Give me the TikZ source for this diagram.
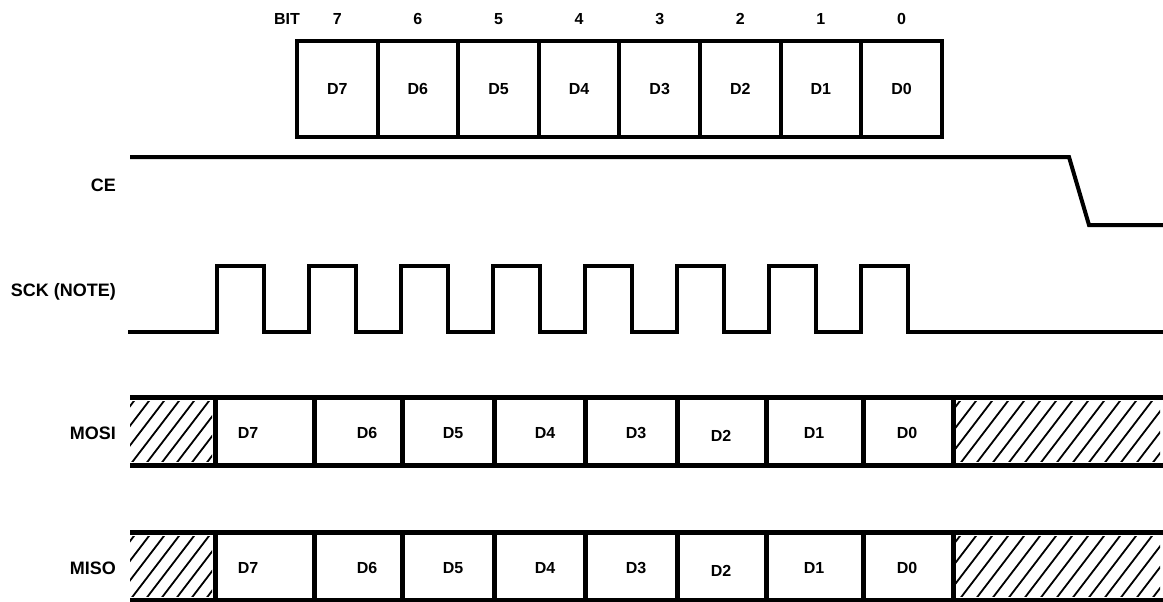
\documentclass[tikz,border=0pt]{standalone}
\usepackage{fontspec}
\setmainfont{Liberation Sans}
\begin{document}
\begin{tikzpicture}[x=1pt,y=-1pt,
    sigLbl/.style={font=\fontsize{18}{18}\selectfont\bfseries,anchor=east,inner sep=0pt},
    cellLbl/.style={font=\fontsize{16}{16}\selectfont\bfseries,inner sep=0pt},
    regCell/.style={draw,line width=4pt,minimum width=80.6pt,minimum height=96pt,cellLbl},
    wave/.style={line width=4pt},
    busLine/.style={line width=5pt},
    hatchLn/.style={line width=1.8pt},
]
\useasboundingbox (0,0) rectangle (1163,602);
% Shift register with bit numbers
\node[cellLbl] (bitLbl) at (287,19) {BIT};
\foreach \i/\b in {0/7,1/6,2/5,3/4,4/3,5/2,6/1,7/0} {
  \node[regCell] (reg\b) at ({337.3+80.6*\i},89) {D\b};
  \node[cellLbl] (bit\b) at ({337.3+80.6*\i},19) {\b};
}
% Signal names
\node[sigLbl] (ceLbl) at (116,185) {CE};
\node[sigLbl] (sckLbl) at (116,292) {SCK (NOTE)};
\node[sigLbl] (mosiLbl) at (116,433) {MOSI};
\node[sigLbl] (misoLbl) at (116,568) {MISO};
% CE
\draw[wave] (130,157) -- (1069,157) -- (1089,225) -- (1163,225);
% SCK, 8 pulses
\draw[wave] (128,332) foreach \k in {0,...,7} {
    -- ({217+92*\k},332) -- ({217+92*\k},266) -- ({263.5+92*\k},266) -- ({263.5+92*\k},332)
  } -- (1163,332);
% MOSI / MISO buses
\foreach \nm/\yc in {MOSI/431,MISO/566} {
  \draw[busLine] (130,\yc-34) -- (1163,\yc-34);
  \draw[busLine] (130,\yc+34) -- (1163,\yc+34);
  \foreach \dx in {215,314,402,494,585,677,766,863,953}
    \draw[busLine] (\dx,\yc-34) -- (\dx,\yc+34);
  % don't-care hatching
  \begin{scope}
    \clip (130,\yc-30) rectangle (212,\yc+30);
    \foreach \h in {70,85,...,215} \draw[hatchLn] (\h,\yc+34) -- ++(52,-68);
  \end{scope}
  \begin{scope}
    \clip (956,\yc-30) rectangle (1160,\yc+30);
    \foreach \h in {895,911,...,1165} \draw[hatchLn] (\h,\yc+34) -- ++(52,-68);
  \end{scope}
  \foreach \b/\lx/\ly in {7/248/2,6/367/2,5/453/2,4/545/2,3/636/2,2/721/5,1/814/2,0/907/2}
    \node[cellLbl] (\nm-D\b) at (\lx,\yc+\ly) {D\b};
}
\end{tikzpicture}
\end{document}
